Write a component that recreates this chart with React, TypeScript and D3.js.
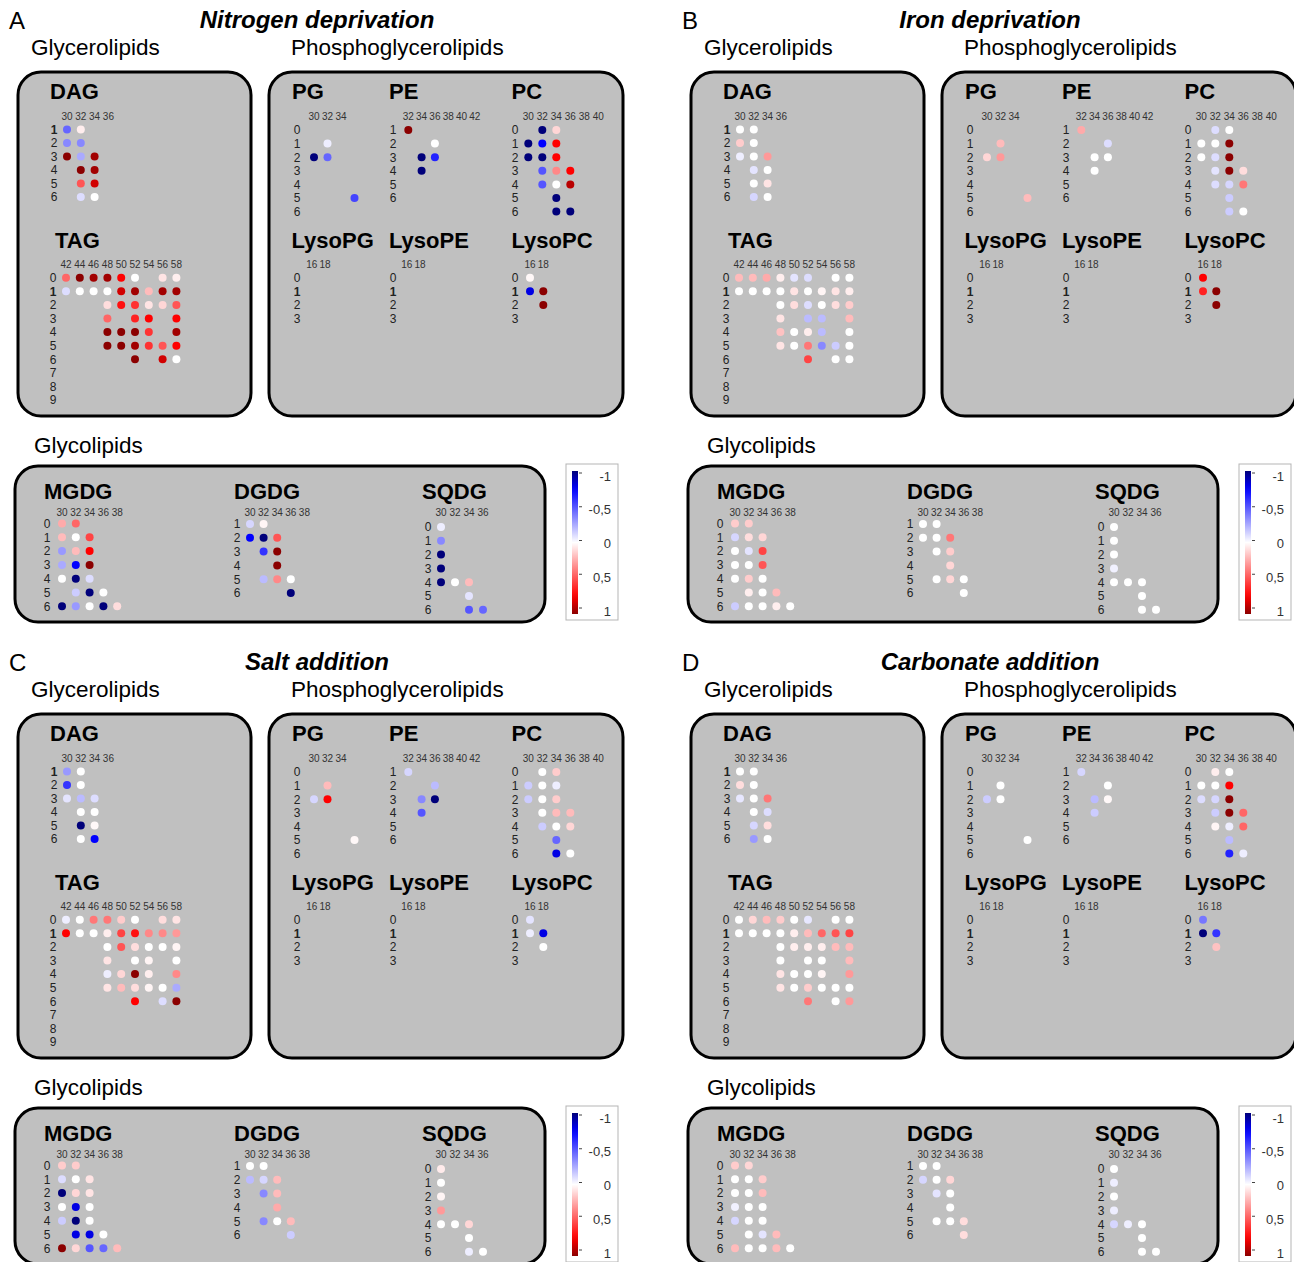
import React from "react";
import * as d3 from "d3";

const conditions = ["Nitrogen deprivation", "Iron deprivation", "Salt addition", "Carbonate addition"];
const panelLetters = ["A", "B", "C", "D"];
const panelOffsets = [[0, 0], [673, 0], [0, 642], [673, 642]];
const legendTicks = [-1, -0.5, 0, 0.5, 1];
const legendLabels = ["-1", "-0,5", "0", "0,5", "1"];

// carbon numbers (column headers) and double bonds (row labels) per lipid class
const dagCarbons = [30, 32, 34, 36];
const dagRows = [1, 2, 3, 4, 5, 6];
const tagCarbons = [42, 44, 46, 48, 50, 52, 54, 56, 58];
const tagRows = [0, 1, 2, 3, 4, 5, 6, 7, 8, 9];
const pgCarbons = [30, 32, 34];
const pgRows = [0, 1, 2, 3, 4, 5, 6];
const peCarbons = [32, 34, 36, 38, 40, 42];
const peRows = [1, 2, 3, 4, 5, 6];
const pcCarbons = [30, 32, 34, 36, 38, 40];
const pcRows = [0, 1, 2, 3, 4, 5, 6];
const lysoCarbons = [16, 18];
const lysoRows = [0, 1, 2, 3];
const mgdgCarbons = [30, 32, 34, 36, 38];
const mgdgRows = [0, 1, 2, 3, 4, 5, 6];
const dgdgCarbons = [30, 32, 34, 36, 38];
const dgdgRows = [1, 2, 3, 4, 5, 6];
const sqdgCarbons = [30, 32, 34, 36];
const sqdgRows = [0, 1, 2, 3, 4, 5, 6];

// detected species: [double bonds, carbon number]
const dagCells = [[1, 30], [1, 32], [2, 30], [2, 32], [3, 30], [3, 32], [3, 34], [4, 32], [4, 34], [5, 32], [5, 34], [6, 32], [6, 34]];
const tagCells = [
  [0, 42], [0, 44], [0, 46], [0, 48], [0, 50], [0, 52], [0, 56], [0, 58],
  [1, 42], [1, 44], [1, 46], [1, 48], [1, 50], [1, 52], [1, 54], [1, 56], [1, 58],
  [2, 48], [2, 50], [2, 52], [2, 54], [2, 56], [2, 58],
  [3, 48], [3, 52], [3, 54], [3, 58],
  [4, 48], [4, 50], [4, 52], [4, 54], [4, 58],
  [5, 48], [5, 50], [5, 52], [5, 54], [5, 56], [5, 58],
  [6, 52], [6, 56], [6, 58],
];
const pgCells = [[1, 32], [2, 30], [2, 32], [5, 36]];
const peCells = [[1, 32], [2, 36], [3, 34], [3, 36], [4, 34]];
const pcCells = [
  [0, 32], [0, 34], [1, 30], [1, 32], [1, 34], [2, 30], [2, 32], [2, 34],
  [3, 32], [3, 34], [3, 36], [4, 32], [4, 34], [4, 36], [5, 34], [6, 34], [6, 36],
];
const lysoPcCells = [[0, 16], [1, 16], [1, 18], [2, 18]];
const mgdgCells = [
  [0, 30], [0, 32], [1, 30], [1, 32], [1, 34], [2, 30], [2, 32], [2, 34],
  [3, 30], [3, 32], [3, 34], [4, 30], [4, 32], [4, 34], [5, 32], [5, 34], [5, 36],
  [6, 30], [6, 32], [6, 34], [6, 36], [6, 38],
];
const dgdgCells = [[1, 30], [1, 32], [2, 30], [2, 32], [2, 34], [3, 32], [3, 34], [4, 34], [5, 32], [5, 34], [5, 36], [6, 36]];
const sqdgCells = [[0, 30], [1, 30], [2, 30], [3, 30], [4, 30], [4, 32], [4, 34], [5, 34], [6, 34], [6, 36]];

// fold-change values, one row per condition (N, Fe, salt, carbonate)
const dagValues = [
  [-0.45, 0.05, -0.35, -0.35, 1, -0.25, 0.95, 1, 0.95, 0.5, 0.85, -0.1, 0],
  [0, 0, 0.15, 0, -0.05, 0, 0.3, -0.08, 0, 0, 0.08, -0.12, 0],
  [-0.3, 0, -0.6, 0, -0.08, -0.2, -0.1, 0, 0, -1, 0.02, 0, -0.75],
  [0, 0, 0.1, 0, -0.07, 0, 0.4, 0, -0.1, -0.12, 0.1, -0.3, 0],
];
const tagValues = [
  [0.45, 1, 0.95, 0.95, 0.75, 0, 0.08, 0.05, -0.1, 0, 0, 0, 0.85, 0.95, 0.2, 0.95, 0.95,
    0.1, 0.7, 0.6, 0.08, 0.12, 0.5, 0.45, 0.65, 0.75, 0.75, 1, 1, 1, 0.6, 0.95, 1, 1, 0.95, 0.6, 0.5, 0.75, 1, 0.85, 0],
  [0.2, 0.2, 0.25, 0.05, -0.08, -0.1, 0, 0, 0, 0, 0, 0, 0.08, 0, 0.03, 0.08, 0.05,
    0, 0.1, -0.1, 0, 0.1, 0.15, 0.08, -0.2, -0.2, 0.2, 0.18, 0, 0.05, -0.2, 0, 0.08, 0, 0.4, -0.35, -0.15, 0, 0.55, 0, 0],
  [-0.05, 0, 0.4, 0.4, 0.15, 0, 0.1, 0.08, 0.75, 0, 0, 0.05, 0.55, 0.7, 0.35, 0.35, 0.3,
    0, 0.5, 0.1, 0, 0, 0.03, 0.08, 0, 0.03, 0, -0.05, 0.12, 1, 0.05, 0.35, 0.08, 0.2, 0.1, 0.03, 0, -0.25, 0.75, -0.1, 1],
  [0, 0.12, 0.2, 0.15, 0, -0.07, 0, 0, 0, 0, 0, 0, 0.05, 0.2, 0.45, 0.5, 0.55,
    0, 0.05, 0.05, 0.05, 0.2, 0.2, 0, 0, 0, 0.2, 0.08, 0, 0, 0.03, 0.3, 0.08, 0, 0.15, 0, 0, 0, 0.4, 0, 0.3],
];
const pgValues = [
  [-0.05, -1, -0.45, -0.55],
  [0.2, 0.12, 0.3, 0.2],
  [0.2, -0.12, 0.75, 0.02],
  [0, -0.15, 0, 0],
];
const peValues = [
  [1, 0, -1, -0.65, -1],
  [0.25, -0.1, 0, 0, 0],
  [-0.12, -0.2, -0.35, -1, -0.5],
  [-0.12, 0, -0.2, 0.02, -0.15],
];
const pcValues = [
  [-1, 0.12, -1, -0.75, 0.75, -1, -1, 0.75, -0.5, 0.35, 0.75, -0.5, 0, 0.9, -1, -1, -1],
  [-0.1, 0, 0, 0, 1, 0, -0.1, 1, -0.08, 1, 0.1, -0.1, -0.12, 0.4, -0.15, -0.15, 0],
  [0, 0.15, -0.15, 0, -0.05, -0.15, 0, 0.15, 0, 0.2, 0.2, -0.15, 0, 0.12, -0.45, -0.8, 0],
  [0.05, 0, 0, 0, 0.75, -0.1, -0.12, 1, -0.15, 1, 0.45, 0.03, -0.05, 0.45, -0.2, -0.65, -0.05],
];
const lysoPcValues = [
  [0.02, -0.8, 1, 1],
  [0.75, 0.65, 1, 1],
  [-0.08, -0.05, -0.8, 0],
  [-0.4, -1, -0.6, 0.18],
];
const mgdgValues = [
  [0.25, 0.45, 0.2, 0, 0.55, -0.3, 0.2, 0.75, -0.25, -0.75, 1, 0, -1, -0.1, -0.15, -1, 0, -1, -0.3, 0, -1, 0.1],
  [0.15, 0.15, -0.12, 0.1, 0.12, 0, -0.08, 0.55, 0, 0, 0.5, 0, 0.15, 0, 0.05, 0, 0.2, -0.15, 0, 0, 0.05, 0],
  [0.15, 0.15, -0.1, 0, 0.08, -1, 0.12, 0.08, 0, -0.8, 0, -0.15, -1, 0, -0.8, -0.8, 0, 1, 0.12, -0.5, -0.45, 0.2],
  [0.15, 0.12, 0, 0, 0.15, 0, 0, 0.2, -0.04, 0, 0, -0.12, 0, 0, 0, -0.08, 0.2, 0.2, 0, 0, 0.2, 0],
];
const dgdgValues = [
  [-0.12, 0.03, -0.75, -1, 0.5, -0.6, 1, 1, -0.2, 0.35, 0, -1],
  [0, 0, 0, 0, 0.4, 0, 0.15, 0.12, 0, 0.12, 0, 0],
  [0, 0, -0.2, -0.12, 0.2, -0.35, 0.2, 0.25, -0.35, 0, 0.2, -0.15],
  [0, 0, -0.12, 0, 0.12, -0.08, 0, 0, 0, 0, 0.1, 0.1],
];
const sqdgValues = [
  [-0.05, -0.35, -1, -1, -1, 0, 0.2, -0.08, -0.5, -0.45],
  [0, 0, 0, -0.04, 0, 0, 0, 0, 0, 0],
  [0.06, 0, 0.03, 0.3, 0, 0, 0.12, 0, -0.05, 0],
  [0, -0.05, 0, -0.05, -0.12, -0.05, 0, 0, 0, 0],
];

const FONT = "'Liberation Sans', Arial, Helvetica, sans-serif";

const colorScale = d3
  .scaleLinear<string>()
  .domain([-1, -0.75, 0, 0.75, 1])
  .range(["#00007a", "#0000ff", "#ffffff", "#ff0000", "#8b0000"])
  .clamp(true);

const classes = [
  { name: "DAG", carbons: dagCarbons, rows: dagRows, cells: dagCells, values: dagValues, tx: 50, ty: 99, x0: 67, xStep: 13.8, hy: 119.5, y0: 129.5, yStep: 13.5, lx: 54, boldOne: true },
  { name: "TAG", carbons: tagCarbons, rows: tagRows, cells: tagCells, values: tagValues, tx: 55, ty: 248, x0: 66, xStep: 13.8, hy: 268, y0: 277.7, yStep: 13.6, lx: 53, boldOne: true },
  { name: "PG", carbons: pgCarbons, rows: pgRows, cells: pgCells, values: pgValues, tx: 292, ty: 99, x0: 314, xStep: 13.5, hy: 119.5, y0: 130, yStep: 13.6, lx: 297, boldOne: false },
  { name: "PE", carbons: peCarbons, rows: peRows, cells: peCells, values: peValues, tx: 389, ty: 99, x0: 408.3, xStep: 13.3, hy: 119.5, y0: 130, yStep: 13.6, lx: 393, boldOne: false },
  { name: "PC", carbons: pcCarbons, rows: pcRows, cells: pcCells, values: pcValues, tx: 511.5, ty: 99, x0: 528.3, xStep: 14, hy: 119.5, y0: 130, yStep: 13.6, lx: 515, boldOne: false },
  { name: "LysoPG", carbons: lysoCarbons, rows: lysoRows, cells: [], values: [[], [], [], []], tx: 291.5, ty: 248, x0: 311.7, xStep: 13.3, hy: 268, y0: 277.7, yStep: 13.6, lx: 297, boldOne: true },
  { name: "LysoPE", carbons: lysoCarbons, rows: lysoRows, cells: [], values: [[], [], [], []], tx: 389, ty: 248, x0: 406.7, xStep: 13.3, hy: 268, y0: 277.7, yStep: 13.6, lx: 393, boldOne: true },
  { name: "LysoPC", carbons: lysoCarbons, rows: lysoRows, cells: lysoPcCells, values: lysoPcValues, tx: 511.5, ty: 248, x0: 530, xStep: 13.3, hy: 268, y0: 277.7, yStep: 13.6, lx: 515, boldOne: true },
  { name: "MGDG", carbons: mgdgCarbons, rows: mgdgRows, cells: mgdgCells, values: mgdgValues, tx: 44, ty: 499, x0: 62, xStep: 13.8, hy: 515.5, y0: 523.5, yStep: 13.8, lx: 47, boldOne: false },
  { name: "DGDG", carbons: dgdgCarbons, rows: dgdgRows, cells: dgdgCells, values: dgdgValues, tx: 234, ty: 499, x0: 250, xStep: 13.6, hy: 515.5, y0: 524, yStep: 13.8, lx: 237, boldOne: false },
  { name: "SQDG", carbons: sqdgCarbons, rows: sqdgRows, cells: sqdgCells, values: sqdgValues, tx: 422, ty: 499, x0: 441, xStep: 14, hy: 515.5, y0: 527, yStep: 13.8, lx: 428, boldOne: false },
];

const LipidBlock = ({ spec, cond }) => {
  const x = d3.scaleLinear().domain([spec.carbons[0], spec.carbons[0] + 2]).range([spec.x0, spec.x0 + spec.xStep]);
  const y = d3.scaleLinear().domain([spec.rows[0], spec.rows[0] + 1]).range([spec.y0, spec.y0 + spec.yStep]);
  const vals = spec.values[cond];
  return (
    <g>
      <text x={spec.tx} y={spec.ty} fontSize={22} fontWeight="bold" fill="#000">{spec.name}</text>
      {spec.carbons.map((c) => (
        <text key={"c" + c} x={x(c)} y={spec.hy} textAnchor="middle" fontSize={10} fill="#333">{c}</text>
      ))}
      {spec.rows.map((r) => (
        <text key={"r" + r} x={spec.lx} y={y(r)} dy="0.36em" textAnchor="middle" fontSize={12}
          fontWeight={spec.boldOne && r === 1 ? "bold" : "normal"} fill="#222">{r}</text>
      ))}
      {spec.cells.map(([r, c], i) => (
        <circle key={"d" + i} cx={x(c)} cy={y(r)} r={4} fill={colorScale(vals[i])} />
      ))}
    </g>
  );
};

const Legend = () => {
  const ly = d3.scaleLinear().domain([-1, 1]).range([476, 611]);
  return (
    <g>
      <rect x={566} y={464} width={52} height={156} fill="#fff" stroke="#b5b5b5" strokeWidth={1} />
      <rect x={572} y={471} width={6} height={143} fill="url(#legendGrad)" />
      {legendTicks.map((t, i) => (
        <g key={t}>
          <line x1={579} x2={582} y1={ly(t) - 3} y2={ly(t) - 3} stroke="#444" strokeWidth={1} />
          <text x={611} y={ly(t)} dy="0.36em" textAnchor="end" fontSize={13} fill="#333">{legendLabels[i]}</text>
        </g>
      ))}
    </g>
  );
};

const Panel = ({ cond }) => {
  const [ox, oy] = panelOffsets[cond];
  return (
    <g transform={`translate(${ox},${oy})`}>
      <text x={9} y={29} fontSize={24} fill="#000">{panelLetters[cond]}</text>
      <text x={317} y={28} fontSize={24} fontWeight="bold" fontStyle="italic" textAnchor="middle" fill="#000">{conditions[cond]}</text>
      <text x={31} y={55} fontSize={22.5} fill="#000">Glycerolipids</text>
      <text x={291} y={55} fontSize={22.5} fill="#000">Phosphoglycerolipids</text>
      <text x={34} y={453} fontSize={22.5} fill="#000">Glycolipids</text>
      <rect x={18} y={72} width={233} height={344} rx={23} fill="#c0c0c0" stroke="#000" strokeWidth={3} />
      <rect x={269} y={72} width={354} height={344} rx={23} fill="#c0c0c0" stroke="#000" strokeWidth={3} />
      <rect x={15} y={466} width={530} height={156} rx={23} fill="#c0c0c0" stroke="#000" strokeWidth={3} />
      {classes.map((spec) => (
        <LipidBlock key={spec.name} spec={spec} cond={cond} />
      ))}
      <Legend />
    </g>
  );
};

const App = () => {
  const stops = d3.range(0, 1.0001, 0.05).map((t) => ({ offset: t, color: colorScale(-1 + 2 * t) }));
  return (
    <svg width={1294} height={1262} style={{ position: "absolute", left: 0, top: 0, background: "#fff" }} fontFamily={FONT}>
      <defs>
        <linearGradient id="legendGrad" x1="0" y1="0" x2="0" y2="1">
          {stops.map((s, i) => (
            <stop key={i} offset={s.offset} stopColor={s.color} />
          ))}
        </linearGradient>
      </defs>
      {conditions.map((c, i) => (
        <Panel key={c} cond={i} />
      ))}
    </svg>
  );
};

export default App;
